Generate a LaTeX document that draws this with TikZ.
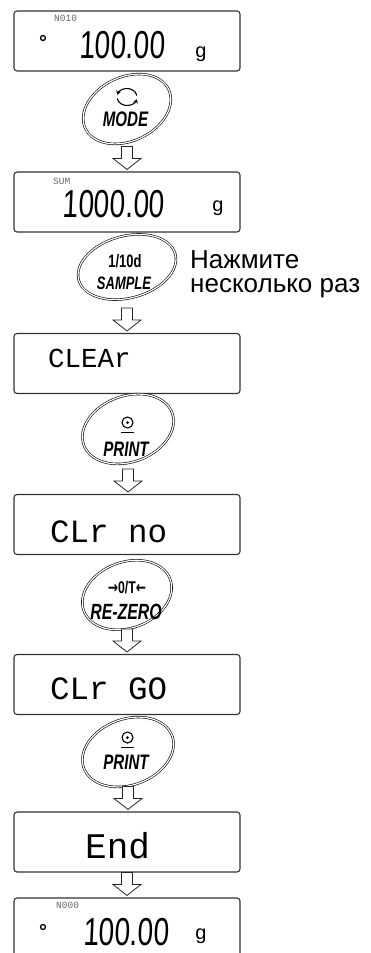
\documentclass[tikz,border=0pt]{standalone}
\usepackage{fontspec}
\setmainfont{Liberation Sans}
\newfontfamily\segfont{Liberation Sans}[FakeSlant=0.06]
\newfontfamily\lcdfont{Liberation Mono}
\newfontfamily\symfont{DejaVu Sans}
\usepackage{graphicx}
\usepackage{tikz}
\usetikzlibrary{arrows.meta}
\usetikzlibrary{calc}

\newcommand{\narrow}[1]{\scalebox{0.72}[1]{#1}}
\newcommand{\flowarrow}[2]{%
  \draw[flow] let \p1=(#1.center), \p2=(#2.north) in
    ({\x1-5.5pt},{\y2+25pt}) -- ({\x1+5.5pt},{\y2+25pt}) -- ({\x1+5.5pt},{\y2+13pt})
    -- ({\x1+14pt},{\y2+13pt}) -- (\x1,{\y2+2pt}) -- ({\x1-14pt},{\y2+13pt})
    -- ({\x1-5.5pt},{\y2+13pt}) -- cycle;}

\begin{document}
\begin{tikzpicture}[x=1pt, y=-1pt,
  lcd/.style={draw=black!80, line width=1.1pt, rounded corners=3pt, minimum width=226pt, minimum height=60pt, inner sep=0},
  key/.style={inner sep=0, font=\fontsize{21}{21}\selectfont\bfseries\itshape},
  ring/.style={draw, line width=0.6pt, double, double distance=1.2pt},
  flow/.style={draw=black!85, line width=0.8pt, fill=white},
  digits/.style={inner sep=0, font=\fontsize{39}{39}\segfont},
  segtext/.style={inner sep=0, anchor=west, font=\fontsize{#1}{#1}\lcdfont},
  tag/.style={inner sep=0, anchor=west, text=black!60, font=\fontsize{9.5}{9.5}\lcdfont},
  unit/.style={inner sep=0, anchor=base, font=\fontsize{20}{20}\selectfont},
  lamp/.style={draw, circle, line width=1.3pt, minimum size=5pt, inner sep=0},
  hint/.style={inner sep=0, anchor=base west, font=\fontsize{26}{26}\selectfont}]
\useasboundingbox (0,0) rectangle (371,953);

\node[lcd] (d1) at (127,41) {};
\node[lcd] (d2) at (127,202) {};
\node[lcd] (d3) at (127,363.5) {};
\node[lcd] (d4) at (127,524.5) {};
\node[lcd] (d5) at (127,684.5) {};
\node[lcd] (d6) at (127,842) {};
\node[lcd] (d7) at (127,928) {};

\node[tag] (n1) at (54,18.5) {N010};
\node[lamp] (o1) at (43,38) {};
\node[digits] (v1) at (122,45) {\narrow{100.00}};
\node[unit] (g1) at (201,57.5) {g};

\node[tag] (n2) at (53,181) {SUM};
\node[digits] (v2) at (113.5,204) {\narrow{1000.00}};
\node[unit] (g2) at (218,211) {g};

\node[segtext=27.5] (t3) at (48,358) {CLEAr};
\node[segtext=32.5] (t4) at (50,532) {CLr no};
\node[segtext=32.5] (t5) at (50,689) {CLr GO};
\node[segtext=36] (t6) at (85,845.5) {End};

\node[tag] (n7) at (56,905) {N000};
\node[lamp] (o7) at (43,927) {};
\node[digits] (v7) at (126,932) {\narrow{100.00}};
\node[unit] (g7) at (201,939) {g};

\coordinate (b1) at (127,109);
\coordinate (b2) at (127,267);
\coordinate (b3) at (128,429);
\coordinate (b4) at (127,595);
\coordinate (b5) at (128,752);
\draw[ring, rotate around={25:(b1)}] (b1) ellipse (46 and 32);
\draw[ring, rotate around={15:(b2)}] (b2) ellipse (50 and 31);
\draw[ring, rotate around={20:(b3)}] (b3) ellipse (47 and 33);
\draw[ring, rotate around={20:(b4)}] (b4) ellipse (46 and 33);
\draw[ring, rotate around={20:(b5)}] (b5) ellipse (47 and 33);

\draw[line width=1.1pt, -{Stealth[length=4pt, width=5pt]}] (127,97) ++(350:10 and 8.5) arc (350:195:10 and 8.5);
\draw[line width=1.1pt, -{Stealth[length=4pt, width=5pt]}] (127,97) ++(170:10 and 8.5) arc (170:15:10 and 8.5);
\node[key] (k1) at (125.5,119.5) {\narrow{MODE}};

\node[key, font=\fontsize{18}{18}\selectfont\bfseries] (k2a) at (125,261) {\narrow{1/10d}};
\node[key, font=\fontsize{18}{18}\selectfont\bfseries\itshape] (k2b) at (124,283) {\narrow{SAMPLE}};

\draw[line width=1.1pt] (127.5,422.5) circle (5.5);
\fill (127.5,422.5) circle (1.5);
\draw[line width=1.2pt] (121,432.5) -- (134,432.5);
\node[key] (k3) at (126,449) {\narrow{PRINT}};

\node[key, font=\fontsize{17}{17}\selectfont\bfseries] (k4a) at (127,588) {\narrow{{\symfont→}0/T{\symfont←}}};
\node[key, font=\fontsize{22}{22}\selectfont\bfseries\itshape] (k4b) at (126,612) {\narrow{RE-ZERO}};

\draw[line width=1.1pt] (127.5,737.5) circle (5.5);
\fill (127.5,737.5) circle (1.5);
\draw[line width=1.2pt] (121,747.5) -- (134,747.5);
\node[key] (k5) at (126,762) {\narrow{PRINT}};

\node[hint] (h1) at (190,268) {Нажмите};
\node[hint] (h2) at (190,292) {несколько раз};

\flowarrow{b1}{d2}
\flowarrow{b2}{d3}
\flowarrow{b3}{d4}
\flowarrow{b4}{d5}
\flowarrow{b5}{d6}
\flowarrow{d6}{d7}
\end{tikzpicture}
\end{document}
